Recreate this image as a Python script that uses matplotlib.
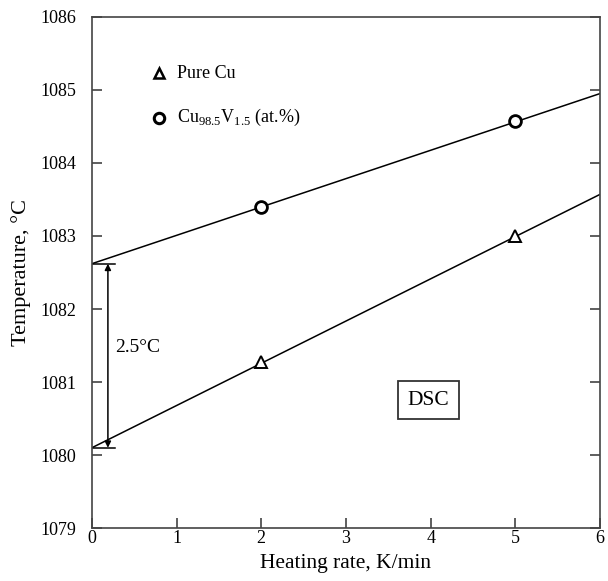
import matplotlib
matplotlib.use("Agg")
import matplotlib.pyplot as plt

plt.rcParams['font.family'] = ['Liberation Serif', 'DejaVu Serif']
plt.rcParams['mathtext.fontset'] = 'custom'
plt.rcParams['mathtext.rm'] = 'Liberation Serif'

# measured points
rate = [2, 5]
pure_cu = [1081.27, 1083.0]
cu_v = [1083.4, 1084.57]
# fitted lines (endpoints)
fit_x = [0, 6]
pure_cu_fit = [1080.1, 1083.57]
cu_v_fit = [1082.62, 1084.95]
gap_label = "2.5°C"

fig = plt.figure(figsize=(6.08, 5.81), dpi=100)
ax = fig.add_axes([0.151, 0.091, 0.836, 0.880])

ax.plot(fit_x, pure_cu_fit, color='black', lw=1.1)
ax.plot(fit_x, cu_v_fit, color='black', lw=1.1)
ax.plot(rate, pure_cu, '^', ms=8, mfc='white', mec='black', mew=1.4)
ax.plot(rate, cu_v, 'o', ms=8.5, mfc='white', mec='black', mew=2.0)

# legend drawn by hand like the original
ax.plot([0.79], [1085.23], '^', ms=7, mfc='white', mec='black', mew=1.8)
ax.text(1.0, 1085.23, "Pure Cu", fontsize=13, va='center')
ax.plot([0.79], [1084.62], 'o', ms=7.5, mfc='white', mec='black', mew=2.2)
ax.text(1.0, 1084.62, r"Cu$_{98.5}$V$_{1.5}$ (at.%)", fontsize=13, va='center')

# gap annotation
y0, y1 = pure_cu_fit[0], cu_v_fit[0]
ax.plot([0, 0.27], [y1, y1], color='black', lw=1.1)
ax.plot([0, 0.27], [y0, y0], color='black', lw=1.1)
ax.annotate('', xy=(0.19, y1), xytext=(0.19, y0),
            arrowprops=dict(arrowstyle='<|-|>', color='black', lw=1.1,
                            mutation_scale=9, shrinkA=0, shrinkB=0))
ax.text(0.28, 1081.47, gap_label, fontsize=14, va='center')

ax.text(3.97, 1080.75, "DSC", fontsize=15.5, ha='center', va='center',
        bbox=dict(boxstyle='square,pad=0.45', fc='white', ec='#333333', lw=1.3))

ax.set_xlim(0, 6)
ax.set_ylim(1079, 1086)
ax.set_xticks(range(0, 7))
ax.set_yticks(range(1079, 1087))
ax.tick_params(direction='in', length=7, width=1.1, labelsize=13,
               right=True, top=False, colors='#333333', labelcolor='black')
ax.tick_params(axis='x', pad=1.5)
ax.tick_params(axis='y', pad=11)
for s in ax.spines.values():
    s.set_linewidth(1.2)
    s.set_color('#444444')
ax.set_xlabel("Heating rate, K/min", fontsize=15.5, labelpad=5)
ax.set_ylabel("Temperature, °C", fontsize=16, labelpad=7)

fig.savefig("out.png", dpi=100)
